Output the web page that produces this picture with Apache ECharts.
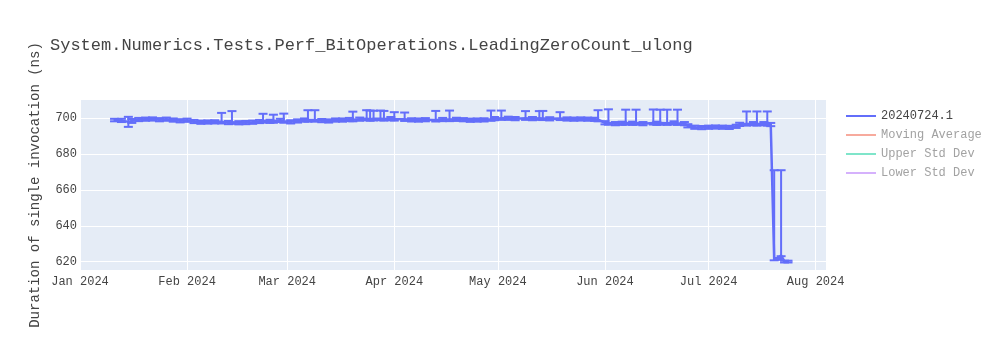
<!DOCTYPE html>
<html>
<head>
<meta charset="utf-8">
<script src="https://cdn.jsdelivr.net/npm/echarts@6/dist/echarts.min.js"></script>
<style>html,body{margin:0;padding:0;background:#fff}#c{width:1000px;height:350px}</style>
</head>
<body>
<div id="c"></div>
<script>
const chartTitle = 'System.Numerics.Tests.Perf_BitOperations.LeadingZeroCount_ulong';
const yTitle = 'Duration of single invocation (ns)';
const seriesNames = ['20240724.1', 'Moving Average', 'Upper Std Dev', 'Lower Std Dev'];
const seriesColors = ['#636efa', '#EF553B', '#00cc96', '#ab63fa'];

const dates = [
'2024-01-11','2024-01-13','2024-01-15','2024-01-16','2024-01-18','2024-01-20','2024-01-22','2024-01-24','2024-01-26','2024-01-28','2024-01-30',
'2024-02-01','2024-02-03','2024-02-05','2024-02-07','2024-02-09','2024-02-11','2024-02-13','2024-02-14','2024-02-16','2024-02-18','2024-02-20','2024-02-22','2024-02-23','2024-02-25','2024-02-26','2024-02-28','2024-02-29',
'2024-03-02','2024-03-04','2024-03-06','2024-03-07','2024-03-09','2024-03-11','2024-03-13','2024-03-15','2024-03-17','2024-03-19','2024-03-20','2024-03-22','2024-03-24','2024-03-25','2024-03-26','2024-03-28','2024-03-29','2024-03-31',
'2024-04-01','2024-04-04','2024-04-06','2024-04-08','2024-04-10','2024-04-13','2024-04-15','2024-04-17','2024-04-19','2024-04-21','2024-04-23','2024-04-25','2024-04-27','2024-04-29','2024-04-30',
'2024-05-02','2024-05-04','2024-05-06','2024-05-09','2024-05-11','2024-05-13','2024-05-14','2024-05-16','2024-05-19','2024-05-21','2024-05-23','2024-05-25','2024-05-27','2024-05-29','2024-05-30',
'2024-06-01','2024-06-02','2024-06-04','2024-06-06','2024-06-07','2024-06-09','2024-06-10','2024-06-12','2024-06-15','2024-06-16','2024-06-17','2024-06-19','2024-06-21','2024-06-22','2024-06-24','2024-06-25','2024-06-27','2024-06-29',
'2024-07-01','2024-07-03','2024-07-05','2024-07-07','2024-07-09','2024-07-10','2024-07-12','2024-07-14','2024-07-15','2024-07-17','2024-07-18','2024-07-19','2024-07-20','2024-07-21','2024-07-22','2024-07-23','2024-07-24'
];

const values = [
699, 698.8, 698, 698.5, 699.3, 699.5, 699.6, 699.2, 699.5, 699, 698.6,
698.9, 698.2, 697.8, 697.9, 698, 698, 697.6, 697.8, 697.5, 697.6, 697.8, 698.2, 698.5, 698.3, 698.4, 698.8, 698.4,
698, 698.5, 699, 699, 699, 698.7, 698.5, 699, 699, 699.3, 699.2, 699.5, 699.8, 699.5, 699.7, 699.8, 699.6, 699.8,
699.6, 699.4, 699.1, 699, 699.2, 699.1, 699.3, 699.3, 699.4, 699.2, 698.9, 699, 699.1, 699.5, 699.8,
700, 700, 699.8, 700, 699.8, 700, 699.9, 699.7, 699.9, 699.6, 699.5, 699.6, 699.5, 699.4, 699.2,
697.5, 697.3, 697, 697.2, 697.3, 697.2, 697.3, 697, 697.4, 697.2, 697.3, 697.2, 697.4, 697.2, 697, 695.8, 695, 694.8,
695, 695.1, 695, 694.9, 695.5, 696.6, 696.8, 697, 696.8, 697, 696.8, 696.5, 621, 621.5, 623.5, 620, 620
];

const errUp = [
0.7, 0.9, 2.8, 1.1, 0.9, 0.9, 0.9, 0.9, 0.9, 0.9, 0.9,
0.9, 0.9, 0.9, 0.9, 0.9, 5, 0.9, 6.2, 0.9, 0.9, 0.9, 0.9, 4, 0.9, 3.6, 0.9, 4.2,
0.9, 0.9, 0.9, 5.5, 5.5, 0.9, 0.9, 0.9, 0.9, 0.9, 4.5, 0.9, 4.7, 4.8, 4.5, 4.5, 4.5, 0.9,
3.8, 3.8, 0.9, 0.9, 0.9, 5, 0.9, 5, 0.9, 0.9, 0.9, 0.9, 0.9, 4.8, 0.9,
4.3, 0.9, 0.9, 4, 0.9, 4, 4.2, 0.9, 3.5, 0.9, 0.9, 0.9, 0.9, 0.9, 5.3,
0.9, 7.7, 0.9, 0.9, 7.5, 0.9, 7.5, 0.9, 7.5, 0.9, 7.5, 7.6, 0.9, 7.6, 0.9, 0.9, 0.9, 0.9,
0.9, 0.9, 0.9, 0.9, 0.9, 0.9, 7, 0.9, 7, 0.9, 7, 0.9, 50, 0.5, 47.5, 0.5, 0.5
];

const errDown = [
0.7, 0.9, 2.8, 1.1, 0.9, 0.9, 0.9, 0.9, 0.9, 0.9, 0.9,
0.9, 0.9, 0.9, 0.9, 0.9, 0.9, 0.9, 0.9, 0.9, 0.9, 0.9, 0.9, 0.9, 0.9, 0.9, 0.9, 0.9,
0.9, 0.9, 0.9, 0.9, 0.9, 0.9, 0.9, 0.9, 0.9, 0.9, 0.9, 0.9, 0.9, 0.9, 0.9, 0.9, 0.9, 0.9,
0.9, 0.9, 0.9, 0.9, 0.9, 0.9, 0.9, 0.9, 0.9, 0.9, 0.9, 0.9, 0.9, 0.9, 0.9,
0.9, 0.9, 0.9, 0.9, 0.9, 0.9, 0.9, 0.9, 0.9, 0.9, 0.9, 0.9, 0.9, 0.9, 0.9,
0.9, 0.9, 0.9, 0.9, 0.9, 0.9, 0.9, 0.9, 0.9, 0.9, 0.9, 0.9, 0.9, 0.9, 0.9, 0.9, 0.9, 0.9,
0.9, 0.9, 0.9, 0.9, 0.9, 0.9, 0.9, 0.9, 0.9, 0.9, 0.9, 0.9, 0.3, 0.5, 0.5, 0.5, 0.5
];

const xTicks = ['2024-01-01','2024-02-01','2024-03-01','2024-04-01','2024-05-01','2024-06-01','2024-07-01','2024-08-01'];
const yTicks = [620, 640, 660, 680, 700];
const xRange = ['2024-01-01', '2024-08-04'];
const yRange = [615.3, 710.2];

const FONT = '"Courier New", "Liberation Mono", monospace';
const MONTHS = ['Jan','Feb','Mar','Apr','May','Jun','Jul','Aug','Sep','Oct','Nov','Dec'];
const ts = d => Date.UTC(+d.slice(0,4), +d.slice(5,7) - 1, +d.slice(8,10));
const xTickTs = xTicks.map(ts);

const chart = echarts.init(document.getElementById('c'), null, {renderer: 'canvas'});

const mainData = dates.map((d, i) => [ts(d), values[i]]);
const errData = dates.map((d, i) => [ts(d), values[i], errUp[i], errDown[i]]);

function renderErr(params, api) {
  const x = api.value(0), y = api.value(1), up = api.value(2), dn = api.value(3);
  const top = api.coord([x, y + up]);
  const bot = api.coord([x, y - dn]);
  const hw = 4.5;
  const st = {stroke: seriesColors[0], lineWidth: 2};
  return {
    type: 'group',
    children: [
      {type: 'line', shape: {x1: top[0], y1: top[1], x2: bot[0], y2: bot[1]}, style: st},
      {type: 'line', shape: {x1: top[0] - hw, y1: top[1], x2: top[0] + hw, y2: top[1]}, style: st},
      {type: 'line', shape: {x1: bot[0] - hw, y1: bot[1], x2: bot[0] + hw, y2: bot[1]}, style: st}
    ]
  };
}

const legendData = seriesNames.map((n, i) => ({
  name: n,
  itemStyle: {color: seriesColors[i], opacity: i === 0 ? 1 : 0.5},
  textStyle: {color: i === 0 ? '#444' : '#a2a2a2'}
}));

chart.setOption({
  animation: false,
  backgroundColor: '#fff',
  title: {
    text: chartTitle,
    left: 50, top: 37, padding: 0,
    textStyle: {fontFamily: FONT, fontSize: 17, fontWeight: 'normal', color: '#444'}
  },
  legend: {
    orient: 'vertical',
    left: 846, top: 108, padding: 0,
    icon: 'rect', itemWidth: 30, itemHeight: 2, itemGap: 3,
    textStyle: {fontFamily: FONT, fontSize: 12, color: '#444', lineHeight: 16},
    data: legendData,
    selectedMode: false
  },
  grid: {
    left: 80, right: 174, top: 100, bottom: 80,
    show: true, backgroundColor: '#E5ECF6', borderWidth: 0
  },
  xAxis: {
    type: 'value',
    min: ts(xRange[0]), max: ts(xRange[1]),
    axisLine: {show: false},
    axisTick: {show: false, customValues: xTickTs},
    splitLine: {show: true, lineStyle: {color: '#fff', width: 1}},
    axisLabel: {
      customValues: xTickTs,
      margin: 6,
      fontFamily: FONT, fontSize: 12, color: '#444',
      formatter: v => { const d = new Date(v); return MONTHS[d.getUTCMonth()] + ' ' + d.getUTCFullYear(); }
    }
  },
  yAxis: {
    type: 'value',
    min: yRange[0], max: yRange[1],
    name: yTitle,
    nameLocation: 'middle',
    nameGap: 38,
    nameTextStyle: {fontFamily: FONT, fontSize: 14, color: '#444'},
    axisLine: {show: false},
    axisTick: {show: false, customValues: yTicks},
    splitLine: {show: true, lineStyle: {color: '#fff', width: 1}},
    axisLabel: {customValues: yTicks, margin: 3, fontFamily: FONT, fontSize: 12, color: '#444'}
  },
  series: [
    {
      name: seriesNames[0], type: 'line', data: mainData,
      showSymbol: false, lineStyle: {color: seriesColors[0], width: 2.5}, itemStyle: {color: seriesColors[0]}
    },
    {
      name: seriesNames[0], type: 'custom', data: errData,
      encode: {x: 0, y: 1}, renderItem: renderErr, clip: true, itemStyle: {color: seriesColors[0]}
    },
    {name: seriesNames[1], type: 'line', data: [], itemStyle: {color: seriesColors[1]}},
    {name: seriesNames[2], type: 'line', data: [], itemStyle: {color: seriesColors[2]}},
    {name: seriesNames[3], type: 'line', data: [], itemStyle: {color: seriesColors[3]}}
  ]
});
</script>
</body>
</html>
